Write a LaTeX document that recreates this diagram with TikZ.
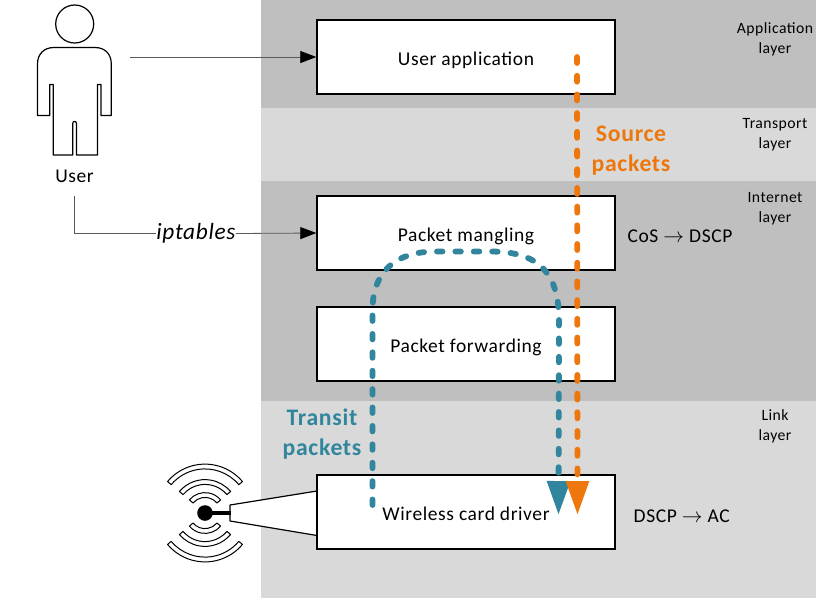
\documentclass[tikz,border=0pt]{standalone}
\usepackage{fontspec}
\setmainfont{Carlito}[LetterSpace=3]
\usetikzlibrary{arrows.meta}
\definecolor{banddark}{HTML}{BFBFBF}
\definecolor{bandlight}{HTML}{D9D9D9}
\definecolor{transit}{HTML}{31859C}
\definecolor{source}{HTML}{ED770D}
\definecolor{linkgrey}{HTML}{595959}
\tikzset{
  x=1pt, y=-1pt,
  stackbox/.style={draw=black, fill=white, line width=1.4pt, minimum width=298pt, minimum height=74pt,
    inner sep=0pt, text height=18pt, text depth=2pt, font=\fontsize{19.5}{20}\selectfont, text=black},
  layerlabel/.style={align=center, font=\fontsize{15.7}{20}\selectfont, inner sep=0pt, text=black},
  maplabel/.style={font=\fontsize{19.5}{20}\selectfont, inner sep=0pt, text=black},
  biglabel/.style={align=center, font=\fontsize{23.7}{30}\selectfont\bfseries, inner sep=0pt},
  userlink/.style={draw=linkgrey, line width=0.8pt},
  userarrow/.style={userlink, -{Triangle[length=16pt,width=12pt,color=black]}},
  flow/.style={line width=5.8pt, line cap=round},
  flowtip/.style={-{Triangle[length=34pt,width=22pt]}},
  outline/.style={draw=black, line width=1.2pt, line join=round},
}
\begin{document}
\begin{tikzpicture}
\useasboundingbox (0,0) rectangle (829,598);

% protocol layer bands
\fill[banddark]  (261,0)   rectangle (816,108);
\fill[bandlight] (261,108) rectangle (816,181);
\fill[banddark]  (261,181) rectangle (816,401);
\fill[bandlight] (261,401) rectangle (816,598);

\node[layerlabel] (app)  at (775,39.5)  {Application\\layer};
\node[layerlabel] (tra)  at (775,135) {Transport\\layer};
\node[layerlabel] (int)  at (775,209) {Internet\\layer};
\node[layerlabel] (lnk)  at (775,426) {Link\\layer};

% the stack of processing blocks
\node[stackbox] (ua)  at (466,57)  {User application};
\node[stackbox] (pm)  at (466,233) {Packet mangling};
\node[stackbox] (pf)  at (466,344) {Packet forwarding};

% antenna horn, drawn under the driver block
\coordinate (horn) at (231,513);
\coordinate (ant) at (205,513);
\draw[outline, fill=white] (230,505) -- (317,491) -- (317,535.5) -- (230,521) -- cycle;
\node[stackbox] (wc)  at (466,512) {Wireless card driver};

\draw[line width=3.4pt] (ant) -- (horn);
\fill[black] (ant) circle[radius=7.8];
\foreach \r in {18,31,46.5} {
  \foreach \a/\b in {40/140,220/320} {
    \draw[outline, line width=1pt, fill=white, shift={(ant)}]
      (\a:\r+2.4) arc[start angle=\a, end angle=\b, radius=\r+2.4]
      -- (\b:\r-2.4) arc[start angle=\b, end angle=\a, radius=\r-2.4] -- cycle;
  }
}

% the user figure
\draw[outline, fill=white] (74.7,24) circle[radius=19];
\draw[outline, fill=white]
  (37.5,115.5) -- (37.5,64) .. controls (37.5,54) and (44,47.5) .. (54,47.5)
  -- (95,47.5) .. controls (105,47.5) and (111.3,54) .. (111.3,64)
  -- (111.3,115.5) -- (101,115.5) -- (101,84.5) -- (97.5,84.5) -- (97.5,155)
  -- (76.5,155) -- (76.5,123.5) .. controls (76.5,120.7) and (72.7,120.7) .. (72.7,123.5)
  -- (72.7,155) -- (53.3,155) -- (53.3,84.5) -- (49.8,84.5) -- (49.8,115.5) -- cycle;
\node[maplabel] (user) at (74.5,176) {User};

% how the user reaches the stack
\coordinate (cli) at (130,57);
\coordinate (userfoot) at (74.5,196);
\node[inner sep=0pt, font=\fontsize{23.3}{24}\selectfont\itshape] (ipt) at (196,233.5) {iptables};
\draw[userarrow] (cli) -- (ua.west);
\draw[userlink] (userfoot) |- (ipt.west);
\draw[userarrow] (ipt.east) -- (pm.west);

% QoS mappings
\node[maplabel] (cos)  at (680,236.5) {CoS $\rightarrow$ DSCP};
\node[maplabel] (dscp) at (681.7,516.5) {DSCP $\rightarrow$ AC};

% packet paths
\coordinate (srcstart) at (577,57);
\coordinate (srcend)   at (577.5,515);
\coordinate (trstart)  at (372.5,505);
\coordinate (trend)    at (558.5,515);
\draw[flow, flowtip, draw=transit, dash pattern=on 5.5pt off 12.9pt]
  (trstart) -- (372.5,310) .. controls (372.5,275) and (392,251.5) .. (436,251.5)
  -- (490,251.5) .. controls (530,251.5) and (559,265) .. (559,320) -- (trend);
\draw[flow, flowtip, draw=source, dash pattern=on 6pt off 12.7pt] (srcstart) -- (srcend);

\node[biglabel, text=source]  (srclabel) at (631,151) {Source\\packets};
\node[biglabel, text=transit] (trlabel)  at (322,434) {Transit\\packets};
\end{tikzpicture}
\end{document}
